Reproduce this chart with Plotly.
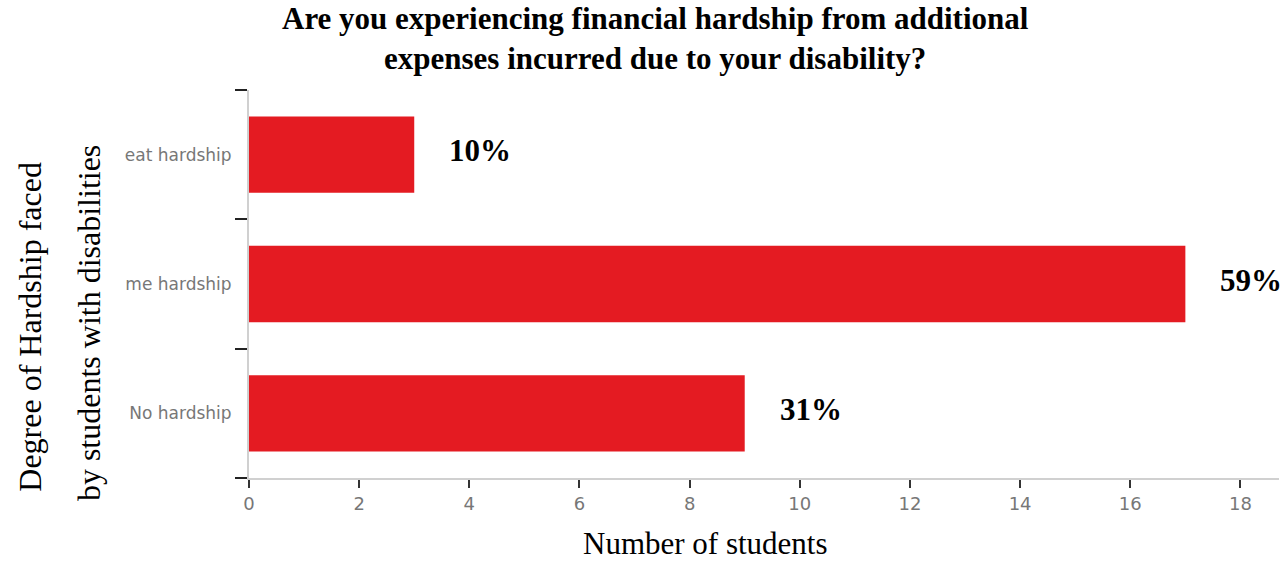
import plotly.graph_objects as go

categories = ["eat hardship", "me hardship", "No hardship"]
counts = [3, 17, 9]
pct_labels = ["10%", "59%", "31%"]
x_ticks = [0, 2, 4, 6, 8, 10, 12, 14, 16, 18]

title_text = "Are you experiencing financial hardship from additional<br>expenses incurred due to your disability?"
x_title = "Number of students"
y_title_1 = "Degree of Hardship faced"
y_title_2 = "by students with disabilities"

serif = "Liberation Serif"

fig = go.Figure()
fig.add_trace(go.Bar(
    x=counts, y=categories, orientation="h",
    marker=dict(color="#E41B22", line=dict(width=0)),
    width=0.59, hoverinfo="skip",
))

for c, v, p in zip(categories, counts, pct_labels):
    fig.add_annotation(x=v, y=c, text="<b>" + p + "</b>", showarrow=False, xanchor="left",
                       xshift=33, yshift=4,
                       font=dict(family=serif, size=31, color="#000"))

fig.add_annotation(xref="paper", yref="paper", x=-0.2126, y=0.39, text=y_title_1,
                   textangle=-90, showarrow=False, xanchor="center", yanchor="middle",
                   font=dict(family=serif, size=32, color="#000"))
fig.add_annotation(xref="paper", yref="paper", x=-0.156, y=0.40, text=y_title_2,
                   textangle=-90, showarrow=False, xanchor="center", yanchor="middle",
                   font=dict(family=serif, size=32, color="#000"))

fig.add_annotation(xref="paper", yref="paper", x=0.443, y=-0.17, text=x_title,
                   showarrow=False, xanchor="center", yanchor="middle", borderpad=0,
                   font=dict(family=serif, size=31, color="#000"))

fig.add_annotation(xref="paper", yref="paper", x=0.395, y=1.235, text="<b>" + title_text + "</b>",
                   showarrow=False, xanchor="center", yanchor="top",
                   font=dict(family=serif, size=31, color="#000"))

fig.update_layout(
    width=1288, height=561,
    margin=dict(l=249, r=9, t=90, b=83),
    paper_bgcolor="white", plot_bgcolor="white",
    showlegend=False,
    xaxis=dict(range=[0, 18.7], tickvals=x_ticks, ticks="outside", ticklen=8,
               tickcolor="#333", tickwidth=2, showgrid=False, zeroline=False,
               showline=True, linecolor="#d0d0d0", linewidth=2,
               tickfont=dict(family="DejaVu Sans", size=18, color="#777")),
    yaxis=dict(categoryorder="array", categoryarray=categories[::-1],
               range=[-0.5, 2.5], ticks="outside", tickson="boundaries",
               ticklen=12, tickcolor="#222", tickwidth=2, showgrid=False,
               showline=True, linecolor="#d0d0d0", linewidth=2,
               ticklabelstandoff=12,
               tickfont=dict(family="DejaVu Sans", size=17, color="#777")),
)

fig.write_html("out.html")
